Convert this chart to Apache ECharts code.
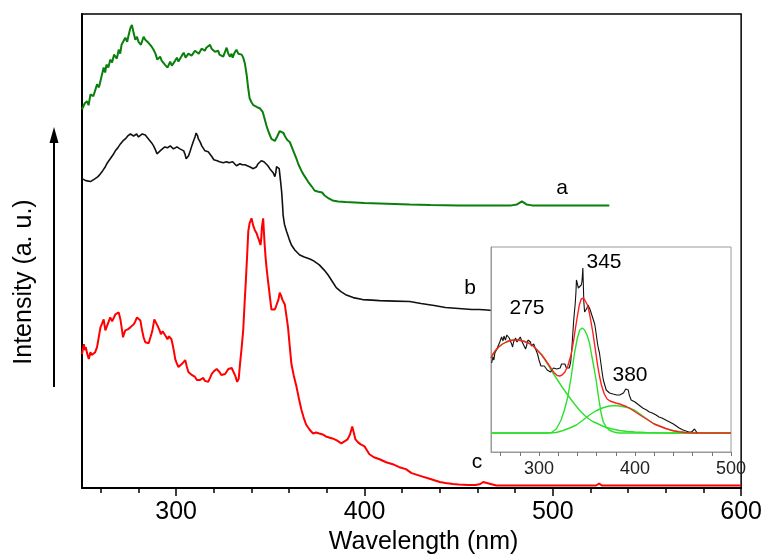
<!DOCTYPE html>
<html><head><meta charset="utf-8">
<script src="https://cdn.jsdelivr.net/npm/echarts@6/dist/echarts.min.js"></script>
<style>html,body{margin:0;padding:0;background:#fff}#c{width:765px;height:560px}</style>
</head><body><div id="c"></div>
<script>
// ---- data (x: wavelength nm, y: relative intensity) ----
const greenA = [[250,382],[251.5,388],[252.7,390],[253.5,386],[254.5,397],[256,395],[257,401],[258,407],[259,404],[260,412],[261.5,424],[262.3,419],[263,427],[264,424],[265,432],[266,429],[267,437],[268.5,433],[269.5,442],[270.3,438],[271,447],[272,445],[273,454],[274,450],[274.8,457],[275.7,464],[276.5,467],[277.4,459],[278.3,452],[279.2,455],[280,450],[281.3,447],[282.7,455],[283.6,452],[284.5,454],[285.3,449],[286,447],[287,445],[288,442],[289,438],[290,432],[291.5,435],[292.3,431],[293,430],[294,427],[295.4,424],[296.8,430],[297.7,426],[298.6,427],[299.5,431],[300.4,434],[301.2,430],[302,432],[303,436],[304,439],[305,434],[305.7,435],[306.5,438],[307.4,440],[308.2,436],[309,437],[310,441],[311,442],[312,438],[312.7,440],[313.5,443],[314.4,445],[315.2,441],[316,444],[317,446],[318,447],[318.8,443],[319.7,442],[320.6,440],[321.5,439],[322.3,441],[323,437],[324,439],[325,435],[326,440],[326.8,444],[327.7,438],[328.6,435],[329.4,438],[330,434],[331,439],[332,442],[333,438],[333.9,440],[334.8,437],[335.6,434],[336.5,428],[337.4,417],[338.2,404],[339,393],[340,389],[341,386],[342,385],[343,384],[344.4,383],[345.3,381],[346,379],[347,372],[348,365],[349.3,358],[350.6,352],[351.5,350],[352.4,350],[353.5,354],[355,360],[356,362],[357,358],[357.7,355],[359,351],[360.3,349],[362,341],[363.9,332],[365,326],[366.5,320],[368,315],[370,309],[372,304],[373.5,300],[375,299],[376,300],[377.5,298],[378.8,295],[381,292],[383,290],[386,289],[390,288.5],[395,288],[400,287.5],[408,287],[416,286.5],[424,286],[435,285.5],[450,285],[465,285],[478,285],[481,286],[483.6,289],[486,286],[489,285],[500,285],[515,285],[530,285]];

const blackB = [[250,312],[251,311],[252,310],[253,309],[254.5,309],[255.5,311],[257,312],[258.5,314],[259.8,317],[261,320],[262.4,324],[263.5,328],[265,332],[266.5,336],[267.7,340],[269,343],[270.4,347],[271.7,350],[273,352],[274.3,355],[275.7,357],[276.5,355],[277.4,355],[278.2,357],[279,357],[280,354],[281,355],[282,357],[282.7,358],[283.6,356],[284.5,355],[285.3,352],[286,350],[287,348],[288,345],[289,341],[289.8,337],[290.6,338],[291.5,340],[292.7,342],[294,344],[295.4,343],[296.8,345],[297.7,344],[298.6,342],[299.5,343],[300.4,344],[301.2,342],[302,342],[303,341],[304,340],[304.8,336],[305.3,332],[305.9,334],[306.6,335],[307.5,340],[308.3,345],[309.2,350],[310,354],[310.6,358],[311,359],[311.4,355],[311.8,352],[312.7,349],[313.6,345],[314.4,343],[315.3,340],[316.2,340],[317,339],[318,337],[319,334],[320,331],[320.6,330],[321.8,330],[323,329],[324,330],[325,328],[326,330],[326.8,329],[328,328],[329,330],[330,329],[331,328],[332,325],[333,327],[333.9,327],[335,326],[335.6,327],[336.5,326],[337.5,325],[339,324],[340,323],[341,322],[341.8,320],[342.7,324],[343.5,327],[344.4,328],[345.2,330],[345.9,331],[346.6,329],[347.5,327],[348.7,325],[349.7,322],[350.6,320],[351.5,318],[352.4,314],[352.9,318],[353.3,324],[354,325],[354.7,322],[355.4,310],[356,299],[356.5,285],[356.8,275],[357.5,266],[358.6,259],[360,251],[361.2,245],[363,240],[365.6,235],[368,233],[371,231],[373,229],[376,225],[378.5,220],[380.6,215],[383,208],[385,202],[387.5,198],[390,195],[394,192],[399,190],[404,189.5],[408,189],[416,188.5],[424,188],[430,186],[437,184],[443,182],[450,181],[457,180],[461,180],[465,179.5],[467.7,179],[469,181],[469.8,184]];

const redC = [[250,135],[250.5,140],[251,145],[251.6,139],[252,142],[252.7,136],[253.4,137],[253.6,130],[254.5,137],[255.2,134],[256,132],[257,137],[258,142],[258.9,152],[259.8,162],[260.7,166],[261.5,170],[262.4,159],[263.2,163],[264,162],[265,172],[266,168],[267,170],[267.7,175],[268.6,173],[269.5,177],[270.4,170],[271.2,160],[271.8,152],[272.4,156],[273,159],[274.3,160],[275.7,162],[276.5,160],[277.4,165],[278.3,168],[279.2,172],[280,171],[281,169],[281.8,160],[282.7,152],[283.6,147],[284.5,145],[285.4,146],[286.3,147],[287.3,158],[288.4,170],[289.2,167],[290,164],[291,160],[291.9,155],[292.8,158],[293.6,157],[294.5,153],[295.4,150],[296.1,153],[296.8,154],[297.5,150],[298.2,144],[298.9,137],[299.5,130],[300.3,126],[301.2,122],[302.1,124],[303,125],[303.9,127],[304.8,129],[305.7,122],[306.5,117],[307.4,118],[308.3,114],[309.2,113],[310,112],[311,109],[311.8,107],[312.7,109],[313.6,110],[314.4,111],[315.3,108],[316.2,109],[317,107],[318,111],[318.9,115],[320.2,118],[321.5,120],[322.3,118],[323,117],[324,114],[325,112],[326,115],[326.8,117],[327.7,120],[328.6,122],[329.5,121],[330.4,120],[331.4,113],[332.4,107],[333.2,110],[333.9,125],[334.7,140],[335.6,159],[336.3,185],[337,209],[337.7,235],[338.3,259],[339,267],[339.5,265],[340,272],[340.5,268],[341,264],[341.8,260],[342.7,257],[343.4,253],[344,250],[344.8,245],[345.2,252],[345.5,262],[345.9,268],[346.2,272],[346.6,258],[347,245],[347.5,232],[348,222],[348.7,210],[349.4,199],[350,189],[350.6,180],[351.5,182],[352.4,180],[353,183],[353.6,185],[354.3,190],[355,197],[355.7,194],[356.4,190],[357,188],[357.7,185],[358.5,174],[359.4,162],[360.3,143],[361.2,125],[362.5,113],[363.9,102],[365.2,90],[366.5,79],[367.7,71],[369,64],[370.8,59],[372.6,55],[374.3,56],[376,55],[377.8,54],[379.5,52],[381.2,51],[383,50],[385.3,48],[387.7,45],[389.4,47],[391,49],[392.3,54],[393.5,62],[394.3,56],[395.2,49],[396.6,46],[398,44],[400,42],[401.3,38],[402.6,34],[405,31],[408,29],[411.5,26],[415,24],[418.5,21],[422,19],[425,15],[430,12],[435,9],[440,6],[443,5],[447,4],[450,3.5],[455,3],[459,3],[461.5,4],[463,6],[464,7],[465,5],[466,3],[470,2.5],[480,2.5],[500,2.5],[520,2.5],[523,2.5],[524.6,4.5],[526,2.5],[540,2.5],[560,2.5],[580,2.5],[600,2.5]];

// inset: measured spectrum, fit and three components
const insetData = [[250.7,89],[252,95],[253,92],[254,99],[255.3,97],[256.5,104],[258,105],[259.2,110],[260,108],[261,115],[262.5,111],[263.5,116],[265,112],[266.5,117],[268,119],[269,114],[270.3,116],[271.5,108],[272.5,105],[273.5,110],[275.6,114],[277,110],[278,108],[279,112],[280.5,115],[282,111],[283,109],[284.5,106],[286,103],[287.3,107],[288.5,112],[290,114],[291.2,110],[292,106],[293,105],[294.5,108],[296,104],[297,103],[298.5,98],[300,92],[301,89],[302,86],[304,84],[305.5,86],[307,85],[308.5,82],[310,83],[312,80],[313.5,82],[315,84],[317,86],[318.5,83],[320,85],[322,84],[323.5,88],[325,86],[327,88],[328.5,84],[330,86],[331.5,84],[333,90],[334,101],[335,115],[336,130],[337,141],[337.7,148],[338.5,160],[339,172],[340,170],[341,164],[342,165],[343,162],[344,167],[344.7,170],[345.3,178],[345.7,184],[346.1,170],[346.7,150],[347.5,140],[348,139],[349,141],[350,144],[351,147],[352,146],[353,143],[354,140],[355,137],[356,135],[357,131],[358,128],[359,122],[360,115],[361,108],[362,103],[363,99],[364,92],[365,85],[366,78],[367,72],[368.5,67],[370,62],[372,60],[373.5,59],[375,59],[377,58],[379,58],[381,57],[384,57],[386,58],[388,59],[389.5,60],[390.3,63],[391,64],[392,61],[393,62],[394,57],[395,55],[396,52],[398,52],[400,50],[401.6,49],[404,47],[406,45],[408,44],[410,43],[412,42],[415,40],[418,39],[420,38],[422,37],[425,35],[428,34],[430,33],[432,32],[436,30],[440,28],[443,26],[446,24],[450,22],[453,21],[456,20],[459,20],[461,21],[462,23],[463,22],[464,20],[465,19]];

const insetFit = [[250,94],[252,98],[255,102],[258,105],[262,108],[266,110],[270,111.5],[274,112],[277,112],[281,111.5],[285,110.5],[290,108.5],[294,106],[298,102],[302.5,97.5],[306,93],[310,87.5],[313,83],[316,79],[319,76.5],[321.5,76],[324,77],[327,80],[330,86],[333.6,98],[336,111],[338,124],[340,136],[342,147],[344,153],[345,155],[346.5,154],[348,152],[350.5,147],[352.5,139],[354,131],[356,120],[358,107],[359.5,97],[361,87],[363,76],[365,67],[368,58],[371,53],[374,51],[377,50],[380,49],[384,48],[388,46.5],[391,45.5],[394,44],[398,41.5],[402,39],[406,36.5],[411,33.5],[416,30.5],[420,28],[424,26.5],[428,25],[432,23.5],[436,22.3],[440,21.3],[446,20.2],[452,19.5],[458,19.2],[463,19],[470,19],[480,19],[500,19]];

const insetPeak275 = [[250,94],[254,100],[258,105],[262,108],[266,110],[270,111.5],[274,112],[277,112],[281,111.5],[285,110.5],[290,108.5],[294,106],[298,102],[302.5,97.5],[306,92.5],[310,86.5],[313,81],[316,77],[320,71],[324,65],[328.5,59],[333,53],[337,48],[342,42],[347,37],[352,33],[356,30.5],[359.5,29],[365,26.5],[370,24.5],[376.6,23],[384,21.5],[392,20.5],[400,20],[411,19.5],[425,19.2],[440,19],[500,19]];

const insetPeak345 = [[250,19],[300,19],[308,19],[313,19.5],[318,23],[323,32],[326.5,42],[330,55],[333.5,75],[337,99],[340,114],[342.5,122],[345,124],[347.5,122],[350,117],[352.6,109],[355,96],[357.5,83],[359.5,72],[362,55],[364.7,39],[367,30],[370,25],[373,22],[378,20],[383,19],[500,19]];

const insetPeak380 = [[250,19],[310,19],[318,19.5],[325,21.5],[332,24],[339,27],[346,32],[352.6,37],[359,41],[366,44],[373,46],[380,46.5],[387,45.5],[394,44],[400,41.5],[406,37.5],[411,34],[416,30.5],[420,28],[424,26.5],[428,25],[432,23.5],[437,22],[441,21],[446,20],[452,19.5],[460,19],[500,19]];

const mainMinorTicks = [260,280,300,320,340,360,380,400,420,440,460,480,500,520,540,560,580,600];
const mainLabels = [300,400,500,600];
const insetMinorTicks = [260,280,300,320,340,360,380,400,420,440,460,480,500];
const insetLabels = [300,400,500];

const FF = '"Liberation Sans", Arial, Helvetica, sans-serif';
const chart = echarts.init(document.getElementById('c'), null, {renderer:'canvas'});

function line(data, color, width, xi, yi, z) {
  return {type:'line', data:data, xAxisIndex:xi, yAxisIndex:yi, showSymbol:false, symbol:'none',
    lineStyle:{color:color, width:width}, itemStyle:{color:color}, z:z||2, animation:false, silent:true};
}

chart.setOption({
  animation:false,
  backgroundColor:'#fff',
  grid:[
    {left:82, right:23, top:14, bottom:68, show:true, borderColor:'#000', borderWidth:1.5, backgroundColor:'transparent'},
    {left:491, right:34, top:247, bottom:108, show:true, borderColor:'#9a9a9a', borderWidth:1, backgroundColor:'#fff', z:5}
  ],
  xAxis:[
    {type:'value', gridIndex:0, min:250, max:600, position:'bottom',
      axisLine:{show:true, lineStyle:{color:'#000', width:2}},
      axisTick:{show:true, customValues:mainMinorTicks, length:5, lineStyle:{color:'#000', width:1.5}},
      axisLabel:{show:false}, splitLine:{show:false}},
    {type:'value', gridIndex:0, min:250, max:600, position:'bottom',
      axisLine:{show:false},
      axisTick:{show:true, customValues:mainLabels, length:8, lineStyle:{color:'#000', width:1.5}},
      axisLabel:{show:true, customValues:mainLabels, fontSize:25, color:'#000', fontFamily:FF, margin:12},
      splitLine:{show:false},
      name:'Wavelength (nm)', nameLocation:'middle', nameGap:42,
      nameTextStyle:{fontSize:25, color:'#000', fontFamily:FF, padding:[0,0,0,24]}},
    {type:'value', gridIndex:1, min:250, max:500, position:'bottom', z:6,
      axisLine:{show:true, lineStyle:{color:'#9a9a9a', width:1}},
      axisTick:{show:true, customValues:insetMinorTicks, length:4, lineStyle:{color:'#777', width:1}},
      axisLabel:{show:true, customValues:insetLabels, fontSize:18, color:'#222', fontFamily:FF, margin:8},
      splitLine:{show:false}}
  ],
  yAxis:[
    {type:'value', gridIndex:0, min:0, max:478,
      axisLine:{show:true, lineStyle:{color:'#000', width:2}},
      axisTick:{show:false}, axisLabel:{show:false}, splitLine:{show:false},
      name:'Intensity (a. u.)', nameLocation:'middle', nameGap:45, nameRotate:90,
      nameTextStyle:{fontSize:25, color:'#000', fontFamily:FF, padding:[0,62,0,0]}},
    {type:'value', gridIndex:1, min:0, max:205, z:6,
      axisLine:{show:true, lineStyle:{color:'#9a9a9a', width:1}},
      axisTick:{show:false}, axisLabel:{show:false}, splitLine:{show:false}}
  ],
  series:[
    line(greenA, '#0b7f0b', 2, 0, 0),
    line(blackB, '#111', 1.6, 0, 0),
    line(redC, '#ff0000', 2, 0, 0),
    line(insetPeak275, '#2de02d', 1.4, 2, 1, 7),
    line(insetPeak345, '#2de02d', 1.4, 2, 1, 7),
    line(insetPeak380, '#2de02d', 1.4, 2, 1, 7),
    line(insetData, '#111', 1.1, 2, 1, 8),
    line(insetFit, '#ff2020', 1.4, 2, 1, 9)
  ],
  graphic:[
    {type:'line', shape:{x1:54, y1:387, x2:54, y2:140}, style:{stroke:'#000', lineWidth:2}, z:10},
    {type:'polygon', shape:{points:[[54,127],[49.5,143],[58.5,143]]}, style:{fill:'#000'}, z:10},
    {type:'text', style:{text:'a', x:562, y:188, fontSize:21, fontFamily:FF, fill:'#000', align:'center', verticalAlign:'middle'}, z:10},
    {type:'text', style:{text:'b', x:470, y:288, fontSize:21, fontFamily:FF, fill:'#000', align:'center', verticalAlign:'middle'}, z:10},
    {type:'text', style:{text:'c', x:477, y:462, fontSize:21, fontFamily:FF, fill:'#000', align:'center', verticalAlign:'middle'}, z:10},
    {type:'text', style:{text:'275', x:527, y:308, fontSize:21, fontFamily:FF, fill:'#000', align:'center', verticalAlign:'middle'}, z:20},
    {type:'text', style:{text:'345', x:604, y:262, fontSize:21, fontFamily:FF, fill:'#000', align:'center', verticalAlign:'middle'}, z:20},
    {type:'text', style:{text:'380', x:630, y:375, fontSize:21, fontFamily:FF, fill:'#000', align:'center', verticalAlign:'middle'}, z:20}
  ]
});
</script></body></html>
